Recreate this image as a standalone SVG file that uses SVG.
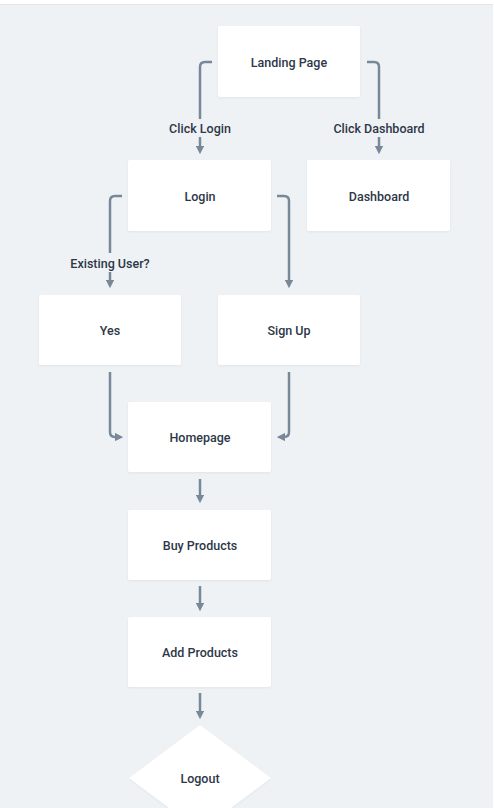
<svg xmlns="http://www.w3.org/2000/svg" width="494" height="808" viewBox="0 0 494 808">
<defs>
<filter id="sh" x="-10%" y="-10%" width="120%" height="130%">
<feDropShadow dx="0" dy="1" stdDeviation="1" flood-color="#000" flood-opacity="0.06"/>
</filter>
<marker id="ah" viewBox="0 0 10 10" refX="5" refY="5" markerWidth="3.4" markerHeight="3.4" orient="auto" markerUnits="strokeWidth">
<path d="M0,0 L10,5 L0,10 z" fill="#778899"/>
</marker>
<style>
.node rect,.node polygon{fill:#ffffff;filter:url(#sh)}
.node text,.lbl{font-family:Roboto,"Noto Sans",sans-serif;font-size:12.5px;font-weight:500;fill:#2d3748;text-anchor:middle;dominant-baseline:central}
.edge{fill:none;stroke:#778899;stroke-width:2.5;stroke-linecap:butt;marker-end:url(#ah)}
.edge2{fill:none;stroke:#778899;stroke-width:2.5}
</style>
</defs>
<rect x="0" y="0" width="494" height="808" fill="#ffffff"/>
<rect x="0" y="5" width="493" height="803" fill="#eff2f5"/>
<rect x="0" y="4" width="493" height="1" fill="#e4e7ea"/>

<g id="connectors">
<path class="edge2" d="M212,62 H205 Q200,62 200,67 V119"/>
<path class="edge" d="M200,137 V150"/>
<text class="lbl" x="200" y="128">Click Login</text>
<path class="edge2" d="M367,62 H374 Q379,62 379,67 V119"/>
<path class="edge" d="M379,137 V150"/>
<text class="lbl" x="379" y="128">Click Dashboard</text>
<path class="edge2" d="M122,196 H115 Q110,196 110,201 V253"/>
<path class="edge" d="M110,272 V284"/>
<text class="lbl" x="110" y="263">Existing User?</text>
<path class="edge" d="M277,196 H284 Q289,196 289,201 V284"/>
<path class="edge" d="M110,372 V432 Q110,437 115,437 H119"/>
<path class="edge" d="M289,372 V432 Q289,437 284,437 H281"/>
<path class="edge" d="M200,479 V499"/>
<path class="edge" d="M200,586 V607"/>
<path class="edge" d="M200,693 V715"/>
</g>

<g id="landing" class="node"><rect x="218" y="26" width="142" height="71" rx="2"/><text x="289" y="62">Landing Page</text></g>
<g id="login" class="node"><rect x="128" y="160" width="143" height="71" rx="2"/><text x="200" y="196">Login</text></g>
<g id="dashboard" class="node"><rect x="307" y="160" width="143" height="71" rx="2"/><text x="379" y="196">Dashboard</text></g>
<g id="yes" class="node"><rect x="39" y="295" width="142" height="70" rx="2"/><text x="110" y="330">Yes</text></g>
<g id="signup" class="node"><rect x="218" y="295" width="142" height="70" rx="2"/><text x="289" y="330">Sign Up</text></g>
<g id="homepage" class="node"><rect x="128" y="402" width="143" height="70" rx="2"/><text x="200" y="437">Homepage</text></g>
<g id="buy" class="node"><rect x="128" y="510" width="143" height="70" rx="2"/><text x="200" y="545">Buy Products</text></g>
<g id="add" class="node"><rect x="128" y="617" width="143" height="70" rx="2"/><text x="200" y="652">Add Products</text></g>
<g id="logout" class="node"><polygon points="200,725 271,778 200,831 129,778"/><text x="200" y="778">Logout</text></g>
</svg>
